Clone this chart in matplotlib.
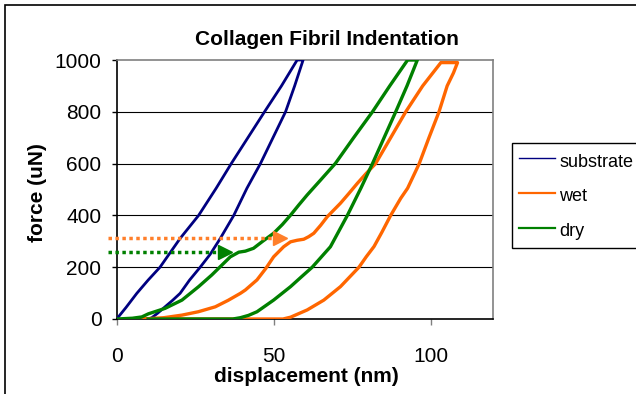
import matplotlib
matplotlib.use("Agg")
import matplotlib.pyplot as plt
from matplotlib.lines import Line2D
from matplotlib.patches import Rectangle

plt.rcParams["font.family"] = ["Liberation Sans", "DejaVu Sans"]

# substrate: loading branch then unloading branch
substrate_x = [0, 3, 6.4, 10, 13.8, 20.2, 26.1, 31.7, 36.5, 41.8, 47.1, 52.5, 57.5,
               59.4, 56.7, 53.8, 49.8, 45.8, 41.5, 37.3, 33.0, 29.8, 26.6, 23.2,
               20.2, 17.8, 15.4, 13.0, 11.2, 10.0]
substrate_y = [0, 45, 99, 150, 200, 311, 400, 505, 600, 700, 800, 900, 1000,
               1000, 900, 800, 700, 600, 505, 400, 311, 250, 200, 150,
               99, 72, 47, 22, 5, 0]

# wet fibril
wet_x = [8.5, 15, 20.8, 26, 31.4, 35.5, 39.4, 41, 44.7, 47.5, 50, 53.2, 55.4,
         57.5, 59.6, 61.2, 62.8, 65, 67.1, 71.3, 74, 76.7, 79.5, 82.5, 87.3,
         92.1, 97.5, 103.3, 108.6,
         107.3, 105.3, 102.7, 99.5, 96.4, 92.7, 90.5, 87.3, 84.5, 82, 79.5,
         77.2, 71.3, 66, 60.7, 55.4, 53, 8.5]
wet_y = [0, 5, 15, 28, 47, 72, 99, 112, 151, 195, 240, 279, 298,
         304, 308, 318, 331, 362, 395, 447, 485, 524, 562, 600, 700,
         800, 900, 990, 990,
         950, 900, 800, 700, 600, 505, 466, 400, 335, 280, 240,
         200, 125, 73, 35, 7, 0, 0]

# dry fibril
dry_x = [0, 5, 8, 10.1, 15.4, 20.8, 26.1, 30.3, 33.5, 36.2, 38.9, 41, 43.6,
         46.5, 50, 52.8, 55.4, 58, 60.7, 65, 69.7, 75.5, 81.5, 87, 92.7,
         95.8, 92.5, 88.9, 85.2, 81.5, 77.8, 73.5, 68.1, 62.3, 58.6, 55.4,
         50, 44.7, 42, 39.4, 37, 10]
dry_y = [0, 3, 8, 20, 41, 73, 125, 170, 208, 240, 258, 262, 273,
         300, 331, 365, 401, 440, 479, 537, 601, 700, 800, 900, 1000,
         1000, 900, 800, 700, 600, 505, 400, 279, 200, 160, 125,
         73, 28, 14, 5, 0, 0]

# dotted arrows marking the plateaus
wet_arrow_y = 311
wet_arrow_end = 50
dry_arrow_y = 260
dry_arrow_end = 32.5
arrow_start = -2.7

navy = "#000080"
orange = "#ff6600"
green = "#008000"

fig = plt.figure(figsize=(6.36, 3.94), dpi=100)
ax = fig.add_axes([116.7 / 636, 1 - 319 / 394, 376.6 / 636, 259 / 394])

for yv in [200, 400, 600, 800]:
    ax.axhline(yv, color="black", lw=0.8, zorder=1)

ax.plot(substrate_x, substrate_y, color=navy, lw=2.0, zorder=3)
ax.plot(wet_x, wet_y, color=orange, lw=2.4, zorder=3)
ax.plot(dry_x, dry_y, color=green, lw=2.4, zorder=3)

# arrows
ax.plot([arrow_start, wet_arrow_end], [wet_arrow_y, wet_arrow_y], color="#ff7f2a",
        lw=2.5, dashes=(1, 1), clip_on=False, zorder=4)
ax.plot([wet_arrow_end + 1.9], [wet_arrow_y], marker=">", color="#ff7f2a",
        markersize=10, zorder=4)
ax.plot([arrow_start, dry_arrow_end], [dry_arrow_y, dry_arrow_y], color=green,
        lw=2.5, dashes=(1, 1), clip_on=False, zorder=4)
ax.plot([dry_arrow_end + 1.9], [dry_arrow_y], marker=">", color=green,
        markersize=10, zorder=4)

ax.set_xlim(0, 120)
ax.set_ylim(0, 1000)
ax.set_xticks([0, 50, 100])
ax.set_yticks([0, 200, 400, 600, 800, 1000])
ax.tick_params(axis="x", length=4.3, width=1, color="#808080", pad=15.5,
               labelsize=15)
ax.tick_params(axis="y", length=3.6, width=1, color="black", pad=7.4,
               labelsize=15)

ax.spines["left"].set_color("black")
ax.spines["bottom"].set_color("black")
ax.spines["top"].set_color("#808080")
ax.spines["right"].set_color("#808080")
for s in ax.spines.values():
    s.set_linewidth(1.2)

ax.set_xlabel("displacement (nm)", fontsize=15, fontweight="bold")
ax.xaxis.set_label_coords(0.503, -0.184)
ax.set_ylabel("force (uN)", fontsize=15, fontweight="bold")
ax.yaxis.set_label_coords(-0.185, 0.49)

fig.text(326.6 / 636, 1 - 45 / 394, "Collagen Fibril Indentation",
         ha="center", va="baseline", fontsize=15, fontweight="bold")

handles = [Line2D([], [], color=navy, lw=1.0),
           Line2D([], [], color=orange, lw=1.6),
           Line2D([], [], color=green, lw=1.6)]
leg = fig.legend(handles, ["substrate", "wet", "dry"], loc="upper left",
                 bbox_to_anchor=(512 / 636, 1 - 143 / 394), borderaxespad=0,
                 fontsize=13, handlelength=2.0, handletextpad=0.22,
                 handleheight=1.4, labelspacing=0.77, fancybox=False,
                 framealpha=1, edgecolor="black")
leg.get_frame().set_linewidth(1.0)

# outer chart border (runs off the right and bottom edges)
fig.patches.append(Rectangle((5 / 636, -0.1), 1.2, 1 - 5 / 394 + 0.1,
                             transform=fig.transFigure, fill=False,
                             edgecolor="black", lw=1.2))

fig.savefig("out.png", dpi=100)
